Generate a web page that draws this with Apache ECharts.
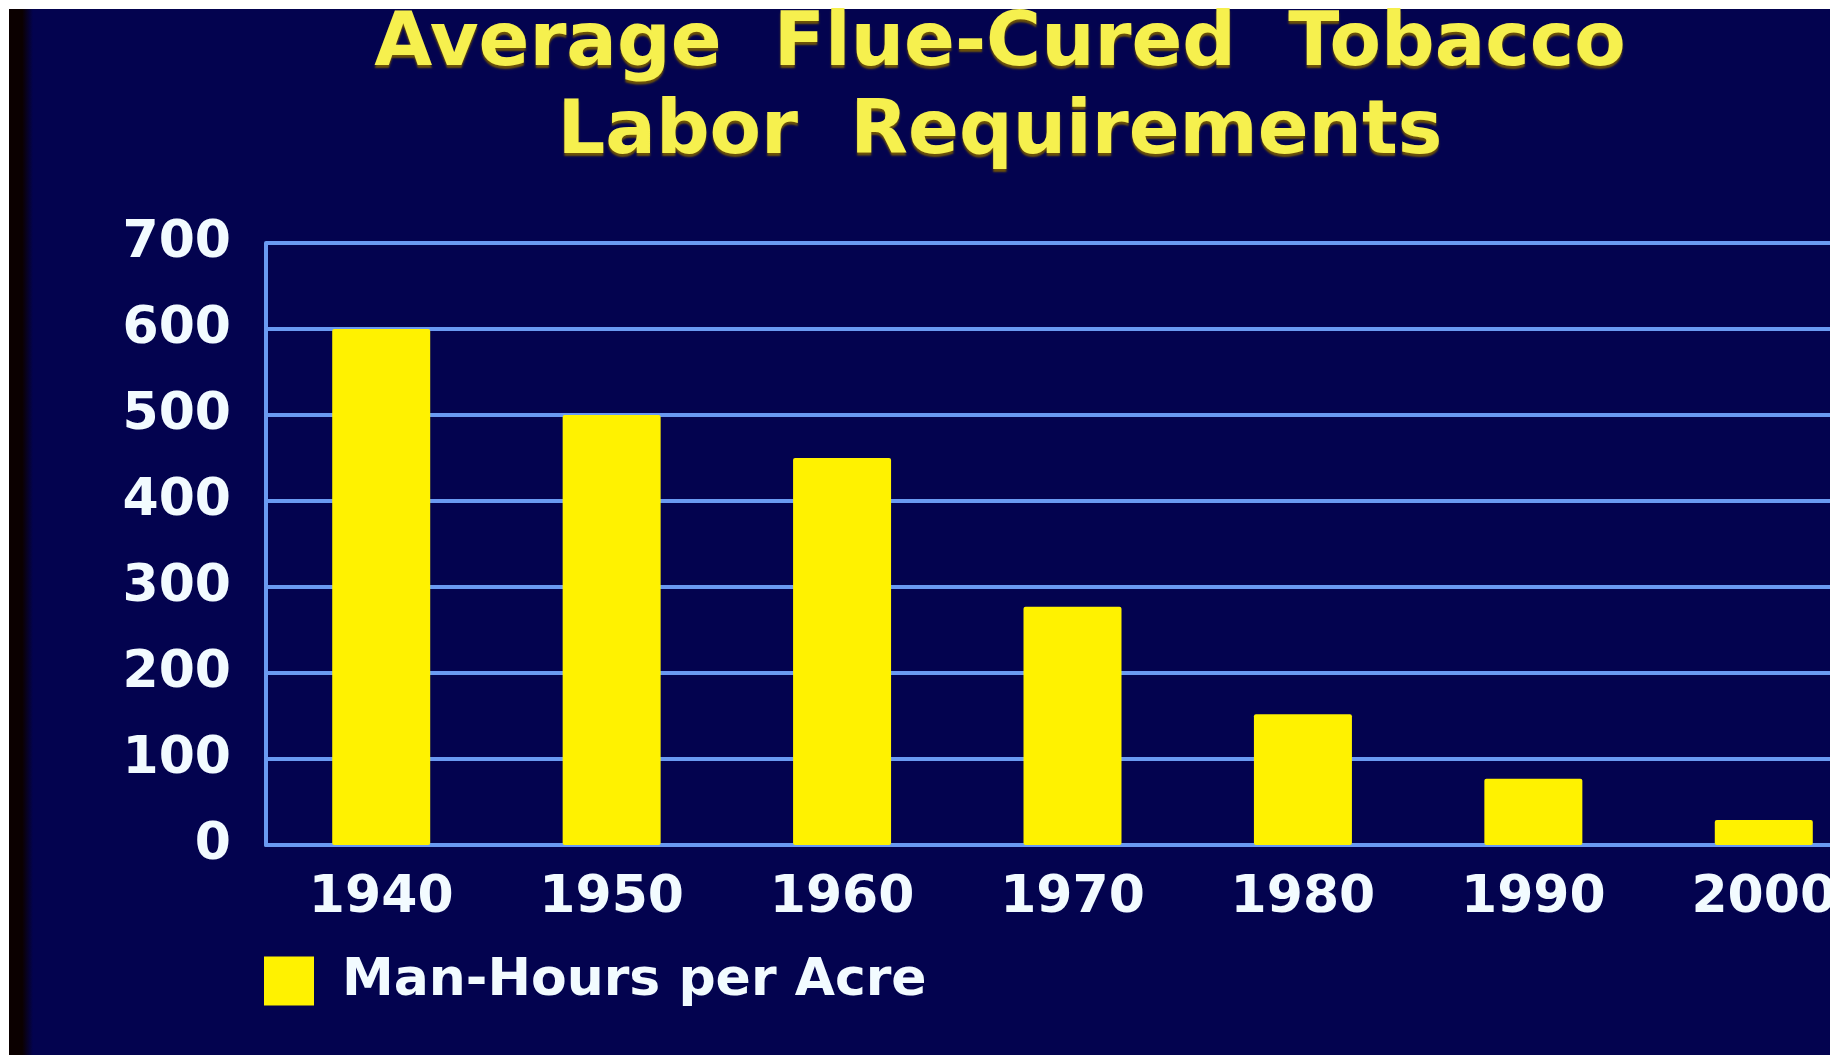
<!DOCTYPE html>
<html lang="en">
<head>
    <meta charset="UTF-8">
    <title>Average Flue-Cured Tobacco Labor Requirements</title>
    <script type="text/javascript" src="https://cdn.jsdelivr.net/npm/echarts@6/dist/echarts.min.js"></script>
    <style>
        html, body { margin: 0; padding: 0; background: #ffffff; }
    </style>
</head>
<body>
<div id="labor" style="width:1830px; height:1055px;"></div>
<script>
    var years = ['1940', '1950', '1960', '1970', '1980', '1990', '2000'];
    var manHours = [600, 500, 450, 277, 152, 77, 29];
    var yTicks = [0, 100, 200, 300, 400, 500, 600, 700];
    var seriesName = 'Man-Hours per Acre';

    var font = 'DejaVu Sans';
    var laborchart = echarts.init(document.getElementById('labor'));

    var laboropinion = {
        backgroundColor: '#03034f',
        animation: false,
        graphic: [
            // edges of the photographed slide
            { type: 'rect', shape: { x: 0, y: 0, width: 1830, height: 9 }, style: { fill: '#ffffff' } },
            { type: 'rect', shape: { x: 0, y: 0, width: 9, height: 1055 }, style: { fill: '#ffffff' } },
            {
                type: 'rect', shape: { x: 9, y: 9, width: 24, height: 1046 },
                style: {
                    fill: new echarts.graphic.LinearGradient(0, 0, 1, 0, [
                        { offset: 0, color: '#0b0000' },
                        { offset: 0.55, color: '#0b0000' },
                        { offset: 1, color: '#03034f' }
                    ])
                }
            }
        ],
        title: {
            text: 'Average  Flue-Cured  Tobacco\nLabor  Requirements',
            left: 1000,
            top: 2,
            padding: 0,
            textAlign: 'center',
            textStyle: {
                color: '#f6f04e',
                fontFamily: font,
                fontWeight: 'bold',
                fontSize: 75,
                lineHeight: 88,
                textShadowColor: 'rgba(120,90,0,0.9)',
                textShadowOffsetY: 3,
                textShadowBlur: 2
            }
        },
        legend: {
            left: 259,
            top: 950,
            itemWidth: 50,
            itemHeight: 49,
            icon: 'rect',
            data: [seriesName],
            textStyle: {
                color: '#f2fbff',
                fontFamily: font,
                fontWeight: 'bold',
                fontSize: 52,
                padding: [0, 0, 0, 23]
            }
        },
        grid: {
            left: 266,
            top: 243,
            width: 1613,
            height: 602,
            outerBoundsMode: 'none'
        },
        xAxis: {
            type: 'category',
            data: years,
            axisLine: { show: true, lineStyle: { color: '#6a9af2', width: 4 } },
            axisTick: { show: false },
            axisLabel: {
                color: '#f2fbff',
                fontFamily: font,
                fontWeight: 'bold',
                fontSize: 52,
                margin: 27
            }
        },
        yAxis: {
            type: 'value',
            min: yTicks[0],
            max: yTicks[yTicks.length - 1],
            interval: 100,
            axisLine: { show: true, lineStyle: { color: '#6a9af2', width: 4 } },
            axisTick: { show: false },
            splitLine: { show: true, lineStyle: { color: '#6a9af2', width: 4 } },
            axisLabel: {
                color: '#f2fbff',
                fontFamily: font,
                fontWeight: 'bold',
                fontSize: 52,
                margin: 35
            }
        },
        series: [{
            name: seriesName,
            type: 'bar',
            data: manHours,
            barWidth: 98,
            itemStyle: { color: '#fff200', borderRadius: 2 }
        }]
    };
    laborchart.setOption(laboropinion);
</script>
</body>
</html>
